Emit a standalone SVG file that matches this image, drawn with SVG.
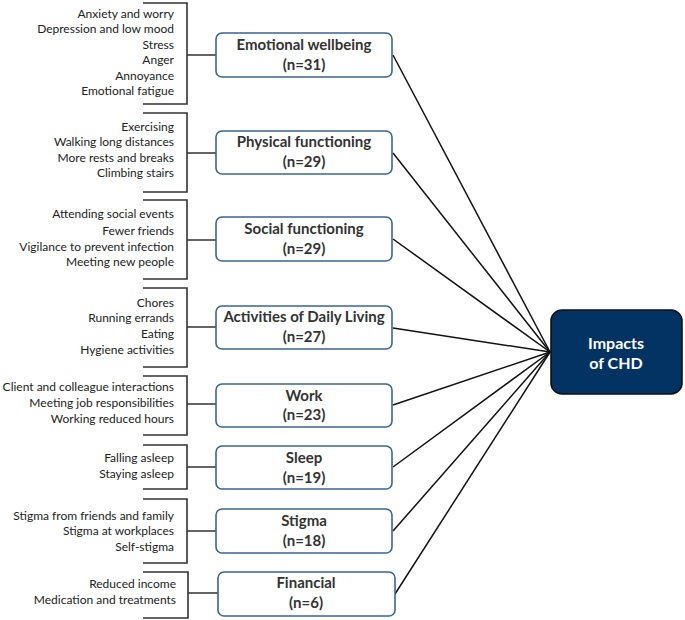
<svg xmlns="http://www.w3.org/2000/svg" width="685" height="620" viewBox="0 0 685 620">
<style>
.bg{fill:#ffffff}
.box{fill:#ffffff;stroke:#3a6593;stroke-width:1.6}
.hub{fill:#033363;stroke:#111111;stroke-width:1.6}
.br{fill:none;stroke:#333333;stroke-width:1.6}
.ln{stroke:#111111;stroke-width:1.5;fill:none}
.it{font-family:Lato,"Open Sans","Liberation Sans",sans-serif;font-size:12px;fill:#222222;text-anchor:end}
.ti{font-family:Lato,"Open Sans","Liberation Sans",sans-serif;font-size:15px;font-weight:bold;fill:#333333;text-anchor:middle}
.hw{font-family:Lato,"Open Sans","Liberation Sans",sans-serif;font-size:16px;font-weight:bold;fill:#ffffff;text-anchor:middle}
</style>
<rect class="bg" x="0" y="0" width="685" height="620"/>
<g id="connectors">
<line class="ln" x1="393" y1="55" x2="550" y2="352"/>
<line class="ln" x1="393" y1="153" x2="550" y2="352"/>
<line class="ln" x1="393" y1="239" x2="550" y2="352"/>
<line class="ln" x1="393" y1="328" x2="550" y2="352"/>
<line class="ln" x1="393" y1="405" x2="550" y2="352"/>
<line class="ln" x1="393" y1="467" x2="550" y2="352"/>
<line class="ln" x1="393" y1="531" x2="550" y2="352"/>
<line class="ln" x1="395" y1="594" x2="550" y2="352"/>
</g>
<g id="hub">
<rect class="hub" x="551" y="310" width="131" height="84" rx="11"/>
<text class="hw" x="616" y="349">Impacts</text>
<text class="hw" x="616" y="369">of CHD</text>
</g>
<g id="emotional">
<path class="br" d="M143,3 H187 V104 H143 M187,55 H216"/>
<text class="it" x="174" y="18">Anxiety and worry</text>
<text class="it" x="174" y="33">Depression and low mood</text>
<text class="it" x="174" y="49">Stress</text>
<text class="it" x="174" y="64">Anger</text>
<text class="it" x="174" y="80">Annoyance</text>
<text class="it" x="174" y="95">Emotional fatigue</text>
<rect class="box" x="216" y="33" width="176" height="44" rx="6"/>
<text class="ti" x="304" y="50">Emotional wellbeing</text>
<text class="ti" x="304" y="70">(n=31)</text>
</g>
<g id="physical">
<path class="br" d="M143,113 H187 V192 H143 M187,153 H216"/>
<text class="it" x="174" y="131">Exercising</text>
<text class="it" x="174" y="146">Walking long distances</text>
<text class="it" x="174" y="162">More rests and breaks</text>
<text class="it" x="174" y="177">Climbing stairs</text>
<rect class="box" x="216" y="131" width="176" height="43" rx="6"/>
<text class="ti" x="304" y="147">Physical functioning</text>
<text class="ti" x="304" y="167">(n=29)</text>
</g>
<g id="social">
<path class="br" d="M143,200 H187 V279 H143 M187,240 H216"/>
<text class="it" x="174" y="218">Attending social events</text>
<text class="it" x="174" y="235">Fewer friends</text>
<text class="it" x="174" y="251">Vigilance to prevent infection</text>
<text class="it" x="174" y="266">Meeting new people</text>
<rect class="box" x="216" y="217" width="176" height="44" rx="6"/>
<text class="ti" x="304" y="234">Social functioning</text>
<text class="ti" x="304" y="254">(n=29)</text>
</g>
<g id="adl">
<path class="br" d="M143,288 H187 V367 H143 M187,327 H216"/>
<text class="it" x="174" y="307">Chores</text>
<text class="it" x="174" y="322">Running errands</text>
<text class="it" x="174" y="338">Eating</text>
<text class="it" x="174" y="354">Hygiene activities</text>
<rect class="box" x="216" y="306" width="176" height="43" rx="6"/>
<text class="ti" x="304" y="322">Activities of Daily Living</text>
<text class="ti" x="304" y="342">(n=27)</text>
</g>
<g id="work">
<path class="br" d="M143,376 H187 V435 H143 M187,404 H216"/>
<text class="it" x="174" y="391">Client and colleague interactions</text>
<text class="it" x="174" y="407">Meeting job responsibilities</text>
<text class="it" x="174" y="423">Working reduced hours</text>
<rect class="box" x="216" y="384" width="176" height="43" rx="6"/>
<text class="ti" x="304" y="401">Work</text>
<text class="ti" x="304" y="420">(n=23)</text>
</g>
<g id="sleep">
<path class="br" d="M143,445 H187 V489 H143 M187,467 H216"/>
<text class="it" x="174" y="462">Falling asleep</text>
<text class="it" x="174" y="478">Staying asleep</text>
<rect class="box" x="216" y="446" width="176" height="43" rx="6"/>
<text class="ti" x="304" y="463">Sleep</text>
<text class="ti" x="304" y="483">(n=19)</text>
</g>
<g id="stigma">
<path class="br" d="M143,499 H187 V563 H143 M187,531 H216"/>
<text class="it" x="174" y="520">Stigma from friends and family</text>
<text class="it" x="174" y="535">Stigma at workplaces</text>
<text class="it" x="174" y="551">Self-stigma</text>
<rect class="box" x="216" y="509" width="176" height="44" rx="6"/>
<text class="ti" x="304" y="526">Stigma</text>
<text class="ti" x="304" y="546">(n=18)</text>
</g>
<g id="financial">
<path class="br" d="M143,572 H188 V618 H143 M188,593 H218"/>
<text class="it" x="176" y="588">Reduced income</text>
<text class="it" x="176" y="604">Medication and treatments</text>
<rect class="box" x="218" y="572" width="177" height="44" rx="6"/>
<text class="ti" x="306" y="588">Financial</text>
<text class="ti" x="306" y="608">(n=6)</text>
</g>
</svg>
